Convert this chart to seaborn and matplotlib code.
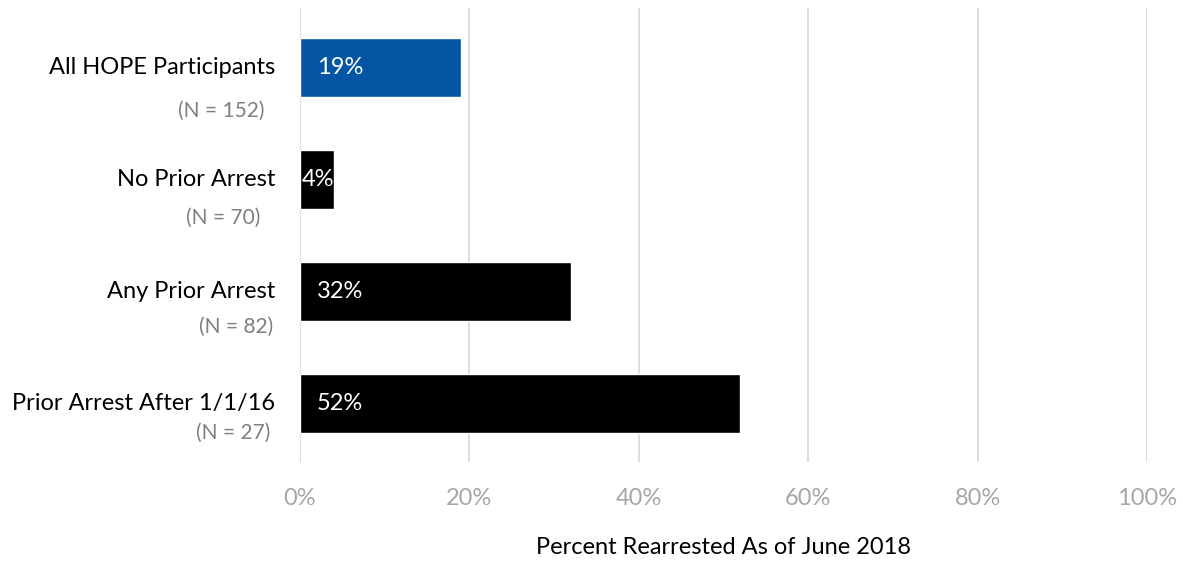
import matplotlib
matplotlib.use("Agg")
import matplotlib.pyplot as plt
import seaborn as sns
import pandas as pd

# ---- data ----
categories = ["All HOPE Participants", "No Prior Arrest", "Any Prior Arrest", "Prior Arrest After 1/1/16"]
n_labels = ["(N = 152)", "(N = 70)", "(N = 82)", "(N = 27)"]
values = [19, 4, 32, 52]
x_ticks = [0, 20, 40, 60, 80, 100]
x_label = "Percent Rearrested As of June 2018"

# ---- style / layout ----
bar_colors = ["#0455A4", "#000000", "#000000", "#000000"]
n_dy = [43, 38, 35, 29]          # pixels below category label
n_dx = [-35, -40, -27, -30]      # right edge offset from axis (pixels)
FONT = "Lato"
FS = 17

sns.set_theme(style="white")
plt.rcParams["font.family"] = [FONT, "DejaVu Sans"]

fig = plt.figure(figsize=(11.83, 5.64), dpi=100)
ax = fig.add_axes([300 / 1183, 1 - 462 / 564, (1147 - 300) / 1183, (462 - 8) / 564])

df = pd.DataFrame({"cat": categories, "val": values})
sns.barplot(data=df, x="val", y="cat", hue="cat", palette=bar_colors, legend=False,
            width=0.53, orient="h", ax=ax, saturation=1)

ax.set_xlim(0, 100)
ax.set_ylim(3.52, -0.53)
ax.set_xticks(x_ticks)
ax.set_xticklabels([f"{t}%" for t in x_ticks], fontsize=FS, color="#A6A6A6")
ax.tick_params(axis="x", length=0, pad=19)
ax.set_yticks(range(len(categories)))
ax.set_yticklabels([])
ax.tick_params(axis="y", length=0)
ax.grid(axis="x", color="#D9D9D9", linewidth=1.3)
ax.set_axisbelow(True)
for s in ax.spines.values():
    s.set_visible(False)
ax.set_ylabel("")
ax.set_xlabel(x_label, fontsize=FS, color="#000000", labelpad=20)

for i, (cat, nl, v) in enumerate(zip(categories, n_labels, values)):
    ax.annotate(cat, xy=(0, i), xycoords=("axes fraction", "data"),
                xytext=(-25, 0), textcoords="offset pixels",
                ha="right", va="center", fontsize=FS, color="#000000")
    ax.annotate(nl, xy=(0, i), xycoords=("axes fraction", "data"),
                xytext=(n_dx[i], -n_dy[i]), textcoords="offset pixels",
                ha="right", va="center", fontsize=15, color="#7F7F7F")
    off = 2 if v > 8 else 0.25
    ax.text(off, i, f"{v}%", ha="left", va="center", fontsize=FS, color="white")

fig.savefig("out.png", dpi=100)
